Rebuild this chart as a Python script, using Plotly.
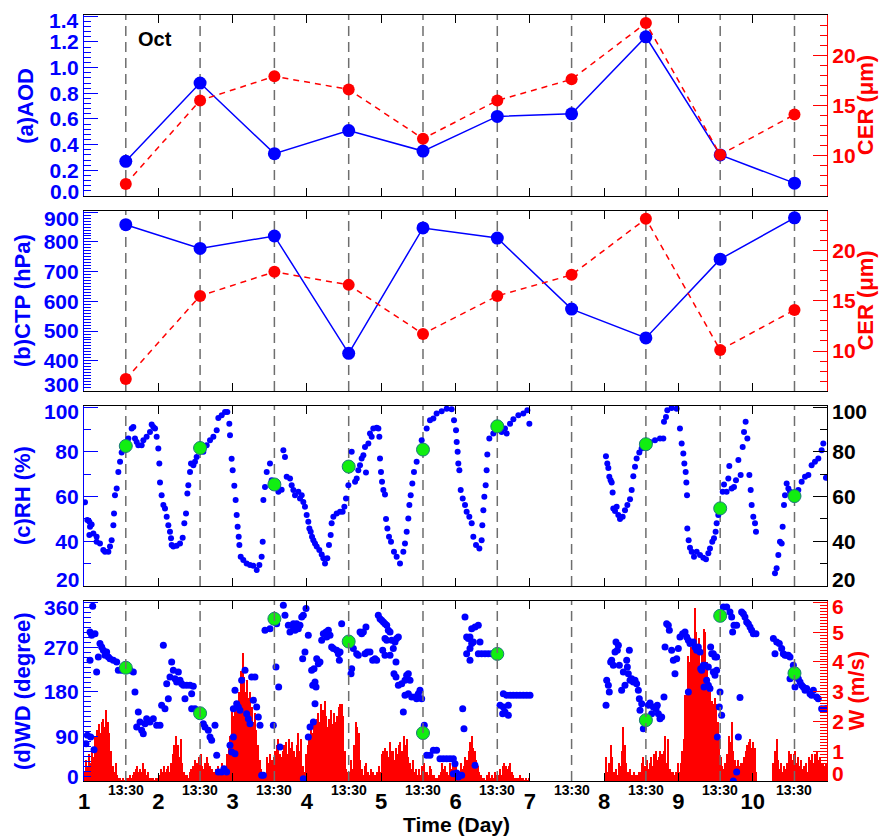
import plotly.graph_objects as go

# ---------------- data ----------------
T1330 = [1.5625, 2.5625, 3.5625, 4.5625, 5.5625, 6.5625, 7.5625, 8.5625, 9.5625, 10.5625]
AOD = [0.27, 0.88, 0.33, 0.51, 0.35, 0.62, 0.64, 1.24, 0.32, 0.10]
CER = [7.2, 15.5, 17.9, 16.6, 11.7, 15.5, 17.6, 23.2, 10.1, 14.1]
CTP = [858, 778, 820, 425, 847, 813, 574, 477, 742, 881]
RH_1330 = [82.6, 81.7, 65.4, 73.4, 81.0, 91.4, None, 83.4, 54.7, 60.2]
WD_1330 = [229, 137, 328, 282, 97, 257, None, 123, 334, 218]

DAY_TICKS = [1, 2, 3, 4, 5, 6, 7, 8, 9, 10]
DAY_LABELS = ["1", "2", "3", "4", "5", "6", "7", "8", "9", "10"]

AOD_TICKS = [0.0, 0.2, 0.4, 0.6, 0.8, 1.0, 1.2, 1.4]
CER_TICKS = [10, 15, 20]
CTP_TICKS = [300, 400, 500, 600, 700, 800, 900]
RH_TICKS = [20, 40, 60, 80, 100]
WD_TICKS = [0, 90, 180, 270, 360]
W_TICKS = [0, 1, 2, 3, 4, 5, 6]

RH_TIME = [
    1.013, 1.045, 1.072, 1.081, 1.103, 1.072, 1.126, 1.170, 1.170, 1.215, 1.260, 1.283, 1.328, 1.350, 1.372,
    1.395, 1.404, 1.417, 1.440, 1.462, 1.485, 1.507, 1.597, 1.642, 1.664, 1.686, 1.709, 1.731, 1.776, 1.799,
    1.843, 1.888, 1.911, 1.933, 1.956, 1.978, 2.000, 2.014, 2.023, 2.045, 2.068, 2.090, 2.113, 2.135, 2.157,
    2.171, 2.180, 2.202, 2.247, 2.292, 2.328, 2.350, 2.373, 2.391, 2.404, 2.427, 2.440, 2.472, 2.494, 2.516,
    2.606, 2.651, 2.696, 2.741, 2.786, 2.808, 2.853, 2.898, 2.929, 2.956, 2.965, 2.987, 3.001, 3.023, 3.041,
    3.055, 3.068, 3.082, 3.091, 3.109, 3.144, 3.189, 3.234, 3.279, 3.324, 3.360, 3.391, 3.405, 3.414, 3.436,
    3.459, 3.503, 3.526, 3.616, 3.660, 3.683, 3.705, 3.728, 3.773, 3.795, 3.818, 3.840, 3.885, 3.907, 3.930,
    3.952, 3.974, 3.997, 4.019, 4.033, 4.051, 4.069, 4.087, 4.109, 4.132, 4.167, 4.199, 4.221, 4.244, 4.275,
    4.297, 4.320, 4.333, 4.356, 4.401, 4.446, 4.481, 4.504, 4.526, 4.558, 4.603, 4.648, 4.670, 4.692, 4.715,
    4.737, 4.760, 4.795, 4.782, 4.827, 4.849, 4.872, 4.894, 4.939, 4.962, 4.975, 4.984, 4.997, 5.011, 5.029,
    5.051, 5.065, 5.083, 5.105, 5.132, 5.172, 5.208, 5.253, 5.298, 5.320, 5.343, 5.365, 5.379, 5.397, 5.419,
    5.441, 5.477, 5.522, 5.545, 5.612, 5.657, 5.702, 5.746, 5.814, 5.881, 5.948, 5.980, 6.007, 6.016, 6.029,
    6.038, 6.052, 6.070, 6.097, 6.128, 6.150, 6.186, 6.218, 6.240, 6.276, 6.321, 6.352, 6.361, 6.375, 6.388,
    6.406, 6.419, 6.428, 6.455, 6.509, 6.621, 6.666, 6.689, 6.734, 6.779, 6.846, 6.913, 6.967, 6.994,
    8.025, 8.043, 8.057, 8.070, 8.088, 8.102, 8.115, 8.124, 8.147, 8.169, 8.191, 8.214, 8.250, 8.281, 8.313,
    8.349, 8.371, 8.393, 8.416, 8.438, 8.474, 8.505, 8.618, 8.685, 8.752, 8.797, 8.806, 8.833, 8.851, 8.909,
    8.977, 9.021, 9.044, 9.066, 9.080, 9.098, 9.107, 9.116, 9.120, 9.138, 9.156, 9.179, 9.210, 9.246, 9.291,
    9.335, 9.371, 9.403, 9.425, 9.456, 9.479, 9.501, 9.515, 9.537, 9.596, 9.614, 9.649, 9.672, 9.685, 9.717,
    9.748, 9.775, 9.807, 9.838, 9.865, 9.883, 9.905, 9.928, 9.955, 9.973, 9.986, 10.008, 10.031, 10.044,
    10.300, 10.322, 10.345, 10.367, 10.390, 10.403, 10.421, 10.435, 10.457, 10.480, 10.502, 10.614, 10.659,
    10.704, 10.749, 10.793, 10.838, 10.883, 10.928, 10.950, 10.986,
]
RH_VAL = [
    57.4, 49.5, 48.7, 46.5, 47.5, 42.8, 43.5, 42.0, 39.8, 39.0, 36.1, 35.3, 35.3, 37.6, 40.5,
    47.2, 52.4, 60.6, 63.6, 71.0, 75.5, 79.7, 85.9, 90.4, 91.1, 85.9, 84.4, 82.9, 82.9, 85.2,
    86.7, 88.9, 92.2, 91.1, 90.4, 86.7, 81.5, 74.8, 66.3, 60.6, 56.2, 54.7, 51.0, 47.2, 44.3,
    41.3, 38.3, 37.6, 38.0, 39.0, 41.6, 48.0, 52.4, 61.4, 65.1, 71.0, 74.8, 74.0, 75.5, 77.7,
    80.0, 82.9, 85.2, 86.7, 89.6, 95.1, 96.3, 97.8, 97.8, 92.6, 87.4, 76.9, 71.8, 64.8, 58.4,
    51.7, 46.5, 42.0, 38.3, 33.1, 31.6, 30.1, 29.4, 29.1, 27.1, 29.4, 33.1, 39.8, 58.4, 64.3,
    71.0, 74.8, 67.3, 62.1, 63.0, 80.7, 77.7, 68.8, 68.1, 65.1, 62.9, 60.6, 62.1, 59.1, 60.6,
    57.6, 55.4, 51.7, 48.7, 45.7, 44.3, 42.0, 40.5, 39.0, 37.6, 36.1, 34.1, 32.4, 30.1, 32.4,
    38.3, 42.8, 48.0, 51.0, 52.4, 53.2, 53.2, 55.4, 59.1, 65.1, 80.0, 66.6, 68.1, 71.8, 74.0,
    77.0, 78.5, 70.7, 82.2, 83.7, 88.2, 86.7, 90.4, 90.8, 90.4, 86.7, 77.0, 71.0, 66.6, 62.9,
    60.9, 49.9, 45.7, 42.0, 39.8, 35.3, 33.1, 30.1, 35.3, 39.0, 44.3, 50.2, 56.2, 60.6, 65.8,
    71.0, 75.5, 80.7, 85.2, 90.4, 94.1, 94.9, 97.1, 98.1, 99.3, 99.0, 94.1, 89.6, 84.4, 80.0,
    74.8, 71.8, 62.9, 59.1, 56.2, 53.2, 51.0, 48.0, 42.0, 38.3, 36.8, 40.5, 47.2, 53.9, 59.9,
    65.1, 71.8, 78.8, 85.9, 88.2, 88.9, 90.4, 88.2, 92.6, 94.6, 96.3, 97.1, 98.6, 92.6,
    78.0, 74.8, 72.8, 68.8, 67.3, 66.3, 61.8, 54.7, 53.5, 55.4, 51.7, 49.9, 51.0, 53.9, 56.2,
    58.8, 62.9, 69.1, 73.3, 77.0, 79.7, 81.5, 84.4, 85.2, 85.9, 85.9, 93.4, 95.6, 98.6, 99.6,
    99.3, 90.4, 83.7, 79.2, 74.8, 71.0, 66.3, 60.6, 45.7, 40.5, 37.1, 35.3, 33.1, 35.3, 33.8,
    32.6, 31.9, 34.6, 36.8, 39.8, 41.3, 44.3, 48.0, 51.7, 62.1, 65.4, 62.1, 68.1, 73.7, 63.6,
    64.3, 67.3, 76.3, 69.6, 82.2, 88.9, 93.4, 85.9, 69.6, 62.9, 56.2, 51.0, 48.0, 44.3,
    25.7, 27.9, 33.8, 39.8, 39.0, 46.5, 56.2, 60.6, 65.8, 63.6, 62.1, 62.9, 66.6,
    68.8, 69.6, 74.0, 75.5, 77.0, 80.7, 83.7, 68.4,
]

WD_TIME = [
    1.027, 1.045, 1.090, 1.135, 1.117, 1.081, 1.103, 1.148, 1.081, 1.170, 1.193, 1.215, 1.238, 1.260, 1.283,
    1.305, 1.328, 1.350, 1.395, 1.440, 1.462, 1.507, 1.619, 1.664, 1.686, 1.731, 1.709, 1.754, 1.776, 1.798,
    1.821, 1.843, 1.888, 1.933, 1.978, 2.023, 2.068, 2.045, 2.090, 2.113, 2.135, 2.157, 2.180, 2.202, 2.225,
    2.247, 2.270, 2.292, 2.314, 2.337, 2.359, 2.382, 2.427, 2.449, 2.471, 2.449, 2.494, 2.606, 2.628, 2.673,
    2.696, 2.718, 2.763, 2.786, 2.808, 2.853, 2.884, 2.920, 2.965, 2.987, 3.010, 3.032, 3.010, 3.032, 3.055,
    3.077, 3.099, 3.122, 3.167, 3.189, 3.212, 3.234, 3.256, 3.279, 3.301, 3.324, 3.346, 3.369, 3.391, 3.414,
    3.436, 3.503, 3.548, 3.584, 3.620, 3.638, 3.593, 3.683, 3.705, 3.750, 3.772, 3.817, 3.862, 3.885,
    3.818, 3.840, 3.907, 3.930, 3.952, 3.988, 4.019, 3.974, 3.943, 4.064, 4.096, 4.132, 4.154, 4.176, 4.109,
    4.078, 4.123, 4.109, 4.087, 4.042, 4.019, 3.952, 4.199, 4.221, 4.257, 4.289, 4.311, 4.266, 4.333, 4.356,
    4.401, 4.423, 4.446, 4.437, 4.468, 4.625, 4.670, 4.692, 4.715, 4.737, 4.760, 4.795, 4.603, 4.594, 4.782,
    4.813, 4.849, 4.885, 4.917, 4.939, 4.961, 4.984, 5.006, 5.029, 5.051, 5.074, 5.096, 5.119, 5.051, 5.074,
    5.020, 5.051, 5.119, 5.163, 5.141, 5.186, 5.208, 5.231, 5.199, 5.172, 5.199, 5.231, 5.276, 5.320, 5.343,
    5.365, 5.388, 5.320, 5.365, 5.410, 5.455, 5.477, 5.500, 5.522, 5.298, 5.545, 5.580, 5.612, 5.657, 5.702,
    5.746, 5.791, 5.836, 5.881, 5.926, 5.971, 5.993, 5.971, 6.016, 6.038, 6.083, 6.097, 6.114, 6.128, 6.150,
    6.173, 6.195, 6.218, 6.263, 6.307, 6.218, 6.240, 6.330, 6.195, 6.150, 6.195, 6.263, 6.307, 6.352, 6.397,
    6.442, 6.487, 6.532, 6.644, 6.689, 6.734, 6.778, 6.823, 6.868, 6.913, 6.958, 7.003, 6.599, 6.644, 6.711,
    6.666, 6.711, 6.635,
    8.026, 8.035, 8.057, 8.070, 8.102, 8.088, 8.124, 8.147, 8.160, 8.178, 8.192, 8.205, 8.236, 8.259, 8.281,
    8.304, 8.313, 8.326, 8.340, 8.349, 8.371, 8.393, 8.416, 8.438, 8.461, 8.474, 8.483, 8.506, 8.528, 8.595,
    8.618, 8.640, 8.663, 8.699, 8.716, 8.730, 8.752, 8.775, 8.806, 8.820, 8.842, 8.864, 8.878, 8.909, 8.932,
    8.954, 8.977, 8.999, 9.021, 9.057, 9.089, 9.111, 9.134, 9.156, 9.201, 9.223, 9.246, 9.268, 9.291, 9.300,
    9.313, 9.336, 9.358, 9.380, 9.403, 9.434, 9.448, 9.470, 9.492, 9.515, 9.470, 9.492, 9.515, 9.345, 9.425,
    9.403, 9.134, 9.524, 9.551, 9.560, 9.582, 9.605, 9.650, 9.694, 9.717, 9.730, 9.748, 9.784, 9.829, 9.807,
    9.784, 9.739, 9.851, 9.874, 9.896, 9.919, 9.941, 9.964, 9.986, 10.009, 10.044, 10.278, 10.300, 10.323,
    10.358, 10.390, 10.412, 10.435, 10.457, 10.480, 10.502, 10.547, 10.502, 10.569, 10.614, 10.637, 10.659,
    10.681, 10.704, 10.726, 10.771, 10.793, 10.816, 10.861, 10.883, 10.928, 10.973, 10.995,
]
WD_VAL = [
    75.5, 92.4, 89.0, 63.4, 353.3, 301.4, 294.6, 298.0, 244.1, 220.5, 250.8, 277.8, 271.0, 264.3, 254.2,
    260.9, 250.8, 247.4, 244.1, 240.7, 223.8, 223.8, 223.8, 220.5, 180.0, 139.6, 109.2, 119.3, 102.5, 95.7,
    116.0, 126.1, 119.3, 126.1, 112.6, 112.6, 274.4, 153.0, 146.3, 196.9, 166.5, 210.4, 240.7, 223.8, 207.0,
    200.2, 220.5, 203.6, 196.9, 193.5, 166.5, 193.5, 193.5, 176.6, 191.5, 146.3, 146.3, 116.0, 109.2, 102.5,
    89.0, 82.3, 112.6, 51.9, 18.2, 18.2, 24.9, 18.2, 72.1, 58.7, 89.0, 55.3, 146.3, 183.4, 156.4,
    149.7, 142.9, 203.6, 223.8, 136.2, 126.1, 116.0, 210.4, 163.2, 210.4, 149.7, 129.4, 112.6, 11.5, 11.5,
    304.7, 308.1, 112.6, 230.6, 190.1, 68.8, 318.2, 355.3, 335.1, 314.9, 301.4, 311.5, 318.2, 308.1,
    318.2, 304.7, 314.9, 331.7, 335.1, 348.6, 294.6, 260.9, 247.4, 223.8, 227.2, 247.4, 237.3, 240.7, 200.2,
    193.5, 190.1, 156.4, 119.3, 109.2, 89.0, 4.7, 284.5, 298.0, 301.4, 304.7, 294.6, 291.3, 271.0, 267.7,
    264.3, 257.5, 260.9, 244.1, 318.2, 267.7, 257.5, 254.2, 301.4, 298.0, 301.4, 311.5, 227.2, 217.1, 257.5,
    260.9, 260.9, 244.1, 247.4, 244.1, 335.1, 328.3, 325.0, 321.6, 318.2, 314.9, 304.7, 301.4, 287.9, 284.5,
    264.3, 254.2, 254.2, 267.7, 284.5, 281.1, 287.9, 291.3, 240.7, 217.1, 210.4, 193.5, 196.9, 203.6, 213.7,
    217.1, 203.6, 173.3, 176.6, 169.9, 169.9, 166.5, 176.6, 183.4, 139.6, 166.5, 112.6, 51.9, 51.9, 62.0,
    62.0, 45.2, 45.2, 45.2, 45.2, 45.2, 35.1, 14.8, 16.2, 8.1, 11.5, 146.3, 105.9, 331.7, 291.3,
    287.9, 291.3, 308.1, 311.5, 314.9, 277.8, 281.1, 281.1, 267.7, 257.5, 244.1, 31.7, 257.5, 257.5, 257.5,
    257.5, 257.5, 257.5, 176.6, 173.3, 173.3, 173.3, 173.3, 173.3, 173.3, 173.3, 173.3, 153.0, 149.7, 153.0,
    139.6, 132.8, 136.2,
    153.0, 203.6, 193.5, 180.0, 244.1, 240.7, 233.9, 260.9, 281.1, 264.3, 274.4, 233.9, 183.4, 220.5, 193.5,
    244.1, 230.6, 217.1, 264.3, 203.6, 207.0, 200.2, 203.6, 196.9, 183.4, 166.5, 142.9, 156.4, 105.9, 153.0,
    157.8, 136.2, 149.7, 146.3, 153.0, 136.2, 126.1, 129.4, 169.9, 271.0, 318.2, 314.9, 304.7, 264.3, 244.1,
    217.1, 247.4, 267.7, 291.3, 298.0, 301.4, 291.3, 284.5, 277.8, 281.1, 271.0, 264.3, 271.0, 260.9, 227.2,
    223.8, 233.9, 233.9, 203.6, 193.5, 271.0, 257.5, 257.5, 250.8, 250.8, 220.5, 213.7, 223.8, 190.1, 186.8,
    230.6, 180.0, 89.0, 149.7, 180.0, 132.8, 351.9, 351.9, 341.8, 331.7, 301.4, 314.9, 314.9, 168.6, 89.0,
    18.2, 0.0, 341.8, 338.4, 331.7, 321.6, 318.2, 311.5, 304.7, 298.0, 298.0, 287.9, 257.5, 281.1,
    277.8, 267.7, 257.5, 254.2, 254.2, 254.2, 250.8, 233.9, 207.0, 190.1, 207.0, 200.2, 193.5,
    190.1, 183.4, 186.8, 176.6, 173.3, 183.4, 169.9, 166.5, 146.3, 146.3, 146.3,
]

# vertical velocity W (m/s), half-hourly bars, one list per day (48 values)
W_STEP = 1.0 / 48.0
W_D1 = [0.3, 0.7, 0.5, 0.9, 0.6, 1.0, 0.8, 1.5, 1.7, 1.9, 1.6, 2.0, 2.1, 1.8, 2.4, 2.0,
        1.6, 1.0, 0.5, 0.3, 0.6, 0.2, 0.1, 0.1, 0.05, 0.1, 0.05, 0.1, 0.1, 0.2, 0.1, 0.2,
        0.3, 0.4, 0.5, 0.3, 0.4, 0.3, 0.6, 0.4, 0.2, 0.3, 0.1, 0.1, 0.1, 0.05, 0.1, 0.1]
W_D2 = [0.2, 0.4, 0.3, 0.5, 0.3, 0.4, 0.5, 0.3, 0.6, 0.9, 1.2, 1.5, 1.2, 0.8, 1.4, 0.6,
        0.3, 0.2, 0.2, 0.1, 0.3, 0.4, 0.5, 0.7, 0.6, 0.6, 0.8, 0.9, 0.5, 0.4, 0.6, 0.8,
        0.6, 0.5, 0.4, 0.3, 0.3, 0.4, 0.5, 0.4, 0.3, 0.6, 0.2, 0.5, 0.9, 1.2, 1.5, 2.5]
W_D3 = [2.2, 2.7, 2.4, 2.5, 3.0, 3.7, 4.3, 3.5, 3.0, 3.4, 2.8, 3.0, 2.5, 2.0, 2.3, 1.7,
        1.2, 0.7, 0.4, 0.3, 0.3, 0.2, 0.8, 0.6, 0.9, 0.7, 0.8, 1.0, 1.2, 1.4, 0.9, 0.8,
        1.0, 1.2, 1.3, 0.9, 1.4, 1.1, 1.3, 1.0, 0.8, 1.2, 1.6, 1.0, 1.4, 0.5, 0.3, 0.9]
W_D4 = [1.2, 1.4, 1.8, 1.6, 1.9, 2.0, 2.1, 2.3, 2.0, 2.6, 2.4, 2.7, 2.2, 1.8, 2.1, 2.4,
        1.9, 2.3, 2.0, 2.2, 2.5, 2.6, 2.6, 2.2, 1.0, 0.4, 0.3, 0.3, 0.7, 0.4, 1.2, 2.0,
        1.8, 1.6, 0.7, 0.4, 0.2, 0.5, 0.6, 0.3, 0.2, 0.4, 0.3, 0.2, 0.2, 0.3, 0.5, 0.3]
W_D5 = [0.9, 1.0, 1.1, 1.0, 0.8, 1.3, 1.0, 1.0, 0.7, 1.1, 0.9, 1.2, 1.3, 1.0, 1.5, 1.2,
        1.4, 0.8, 0.6, 0.4, 0.7, 0.3, 0.4, 0.2, 0.4, 0.2, 0.5, 0.6, 0.3, 0.3, 0.2, 0.5,
        0.4, 0.2, 0.2, 0.1, 0.1, 0.2, 0.3, 0.6, 0.4, 0.5, 0.3, 0.2, 0.6, 0.4, 0.6, 0.8]
W_D6 = [0.5, 0.3, 0.2, 0.6, 0.4, 0.5, 0.8, 0.7, 1.0, 1.3, 1.5, 1.1, 1.0, 0.7, 0.5, 0.3,
        0.2, 0.1, 0.1, 0.05, 0.2, 0.3, 0.1, 0.2, 0.1, 0.3, 0.2, 0.2, 0.4, 0.2, 0.5, 0.6,
        0.5, 0.4, 0.5, 0.6, 0.3, 0.2, 0.1, 0.1, 0.1, 0.2, 0.1, 0.1, 0.05, 0.1, 0.05, 0.1]
W_D7 = [None] * 48
W_D8 = [None, 0.8, 0.3, 0.6, 1.2, 0.8, 0.3, 0.4, 0.2, 0.6, 0.5, 1.0, 1.8, 1.2, 0.6, 0.3,
        0.4, 0.2, 0.2, 0.3, 0.2, 0.2, 0.3, 0.3, 0.6, 0.8, 0.5, 0.7, 0.4, 0.6, 0.8, 0.5,
        0.9, 1.0, 0.7, 0.8, 1.0, 0.9, 1.0, 1.5, 0.6, 1.4, 0.4, 0.3, 0.3, 0.2, 0.3, 0.6]
W_D9 = [0.3, 0.6, 1.0, 1.4, 2.9, 3.0, 4.2, 4.0, 4.5, 4.7, 5.8, 5.0, 4.3, 4.8, 3.9, 4.4,
        5.1, 5.0, 4.0, 3.5, 3.0, 2.7, 2.6, 2.8, 2.6, 2.0, 1.5, 0.8, 0.5, 0.4, 0.6, 0.9,
        1.5, 1.3, 2.0, 1.0, 0.7, 0.5, 0.7, 0.5, 0.6, 0.6, 0.8, 1.0, 1.2, 1.3, 1.4, 1.1]
W_D10 = [1.3, 1.1, 0.3, None, None, None, None, None, None, None, None, None, None, 0.6, 1.0, 1.4,
         0.7, 0.4, 0.6, 0.3, 0.5, 0.4, 0.6, 1.0, 0.9, 0.7, 0.9, 1.0, 0.6, 0.8, 0.5, 0.7,
         0.4, 0.5, 0.6, 0.3, 0.8, 0.7, 0.9, 0.6, 0.9, 1.0, 0.7, 0.8, 0.6, 0.6, 0.5, 0.6]

# ---------------- styling ----------------
BLUE = "#0000ff"
RED = "#ff0000"
GREEN = "#11ee11"
BLACK = "#000000"
GRAY = "#6e6e6e"
FONT = "Liberation Sans, Arial, sans-serif"
TICK_SIZE = 21

W_ALL = W_D1 + W_D2 + W_D3 + W_D4 + W_D5 + W_D6 + W_D7 + W_D8 + W_D9 + W_D10
W_TIME = [1.0 + (i + 0.5) * W_STEP for i in range(len(W_ALL))]

fig = go.Figure()

# panel (a)
fig.add_trace(go.Scatter(x=T1330, y=AOD, mode="lines+markers", xaxis="x", yaxis="y",
                         line=dict(color=BLUE, width=1.5), marker=dict(color=BLUE, size=13)))
fig.add_trace(go.Scatter(x=T1330, y=CER, mode="lines+markers", xaxis="x", yaxis="y2",
                         line=dict(color=RED, width=1.5, dash="6px,5px"), marker=dict(color=RED, size=12)))
# panel (b)
fig.add_trace(go.Scatter(x=T1330, y=CTP, mode="lines+markers", xaxis="x2", yaxis="y3",
                         line=dict(color=BLUE, width=1.5), marker=dict(color=BLUE, size=13)))
fig.add_trace(go.Scatter(x=T1330, y=CER, mode="lines+markers", xaxis="x2", yaxis="y4",
                         line=dict(color=RED, width=1.5, dash="6px,5px"), marker=dict(color=RED, size=12)))
# panel (c)
fig.add_trace(go.Scatter(x=RH_TIME, y=RH_VAL, mode="markers", xaxis="x3", yaxis="y5",
                         marker=dict(color=BLUE, size=6)))
fig.add_trace(go.Scatter(x=T1330, y=RH_1330, mode="markers", xaxis="x3", yaxis="y5",
                         marker=dict(color=GREEN, size=13, line=dict(color="#1a7a7a", width=1))))
fig.add_trace(go.Scatter(x=[1], y=[None], mode="markers", xaxis="x3", yaxis="y6",
                         marker=dict(size=1, opacity=0), hoverinfo="skip"))
# panel (d)
fig.add_trace(go.Bar(x=W_TIME, y=W_ALL, xaxis="x4", yaxis="y7", width=W_STEP * 0.8,
                     marker=dict(color=RED, line=dict(width=0))))
fig.add_trace(go.Scatter(x=WD_TIME, y=WD_VAL, mode="markers", xaxis="x4", yaxis="y8",
                         marker=dict(color=BLUE, size=7)))
fig.add_trace(go.Scatter(x=T1330, y=WD_1330, mode="markers", xaxis="x4", yaxis="y8",
                         marker=dict(color=GREEN, size=13, line=dict(color="#1a7a7a", width=1))))

DOM = {"a": [0.7637, 1.0], "b": [0.509, 0.7445], "c": [0.2546, 0.4896], "d": [0.0, 0.235]}
XR = [1.0, 11.0]


def xax(anchor, labels):
    d = dict(domain=[0, 1], range=XR, showline=True, linecolor=BLACK, linewidth=1.2, mirror="ticks",
             ticks="inside", ticklen=8, tickcolor=BLACK, tickwidth=1.2, tickvals=DAY_TICKS,
             showgrid=False, zeroline=False, anchor=anchor)
    if labels:
        d.update(ticktext=DAY_LABELS, showticklabels=True, ticklabelstandoff=0,
                 tickfont=dict(family=FONT, size=22, color=BLACK, weight="bold"))
    else:
        d.update(showticklabels=False)
    return d


ann = []


def edge(text, value, yref, side, color, shift):
    ann.append(dict(text=text, x=0 if side == "left" else 1, xref="paper", y=value, yref=yref,
                    xanchor="right" if side == "left" else "left", yanchor="middle",
                    xshift=-3 if side == "left" else 3, yshift=shift, showarrow=False,
                    font=dict(family=FONT, size=TICK_SIZE, color=color, weight="bold")))


def yax(color, rng, ticks, fmt, minor, side="left", labelcolor=None, domain=None,
        overlaying=None, anchor="x", yref="y", top_shift=0, bot_shift=0):
    lc = labelcolor or color
    texts = []
    for v in ticks:
        t = fmt.format(v)
        # labels at the very ends of an axis are drawn nudged inward, as in the original
        if v == ticks[0] and bot_shift:
            texts.append("")
            edge(t, v, yref, side, lc, bot_shift)
        elif v == ticks[-1] and top_shift:
            texts.append("")
            edge(t, v, yref, side, lc, top_shift)
        else:
            texts.append(t)
    d = dict(range=rng, tickmode="array", tickvals=ticks, ticktext=texts, side=side,
             showline=True, linecolor=color, linewidth=1.2,
             ticks="inside", ticklen=14, tickwidth=1.2, tickcolor=color,
             minor=dict(tickmode="linear", tick0=0, dtick=minor, ticks="inside", ticklen=7,
                        tickcolor=color, tickwidth=1),
             showgrid=False, zeroline=False, anchor=anchor,
             tickfont=dict(family=FONT, size=TICK_SIZE, color=lc, weight="bold"))
    if domain is not None:
        d["domain"] = domain
    if overlaying:
        d["overlaying"] = overlaying
    return d


layout = dict(
    width=882, height=836, margin=dict(l=84, r=55, t=15, b=55),
    plot_bgcolor="white", paper_bgcolor="white", showlegend=False, bargap=0,
    font=dict(family=FONT, weight="bold"),
)
layout["xaxis"] = xax("y", False)
layout["xaxis2"] = xax("y3", False)
layout["xaxis3"] = xax("y5", False)
layout["xaxis4"] = xax("y7", True)

layout["yaxis"] = yax(BLUE, [0, 1.41], AOD_TICKS, "{:.1f}", 0.04, domain=DOM["a"], anchor="x", yref="y",
                      top_shift=-4, bot_shift=5)
layout["yaxis2"] = yax(RED, [6, 24], CER_TICKS, "{:d}", 1, side="right", overlaying="y", anchor="x", yref="y2")
layout["yaxis3"] = yax(BLUE, [298, 905], CTP_TICKS, "{:d}", 10, domain=DOM["b"], anchor="x2", yref="y3",
                       top_shift=-6, bot_shift=6)
layout["yaxis4"] = yax(RED, [6, 24], CER_TICKS, "{:d}", 1, side="right", overlaying="y3", anchor="x2", yref="y4")
layout["yaxis5"] = yax(BLUE, [20, 100.5], RH_TICKS, "{:d}", 10, domain=DOM["c"], anchor="x3", yref="y5",
                       top_shift=-4, bot_shift=6)
layout["yaxis6"] = yax(BLACK, [20, 100.5], RH_TICKS, "{:d}", 10, side="right", overlaying="y5", anchor="x3",
                       yref="y6", top_shift=-4, bot_shift=6)
layout["yaxis7"] = yax(RED, [0, 6.05], W_TICKS, "{:d}", 0.1, side="right", domain=DOM["d"], anchor="x4",
                       yref="y7", top_shift=-4, bot_shift=8)
layout["yaxis8"] = yax(BLUE, [0, 364], WD_TICKS, "{:d}", 10, side="left", overlaying="y7", anchor="x4",
                       yref="y8", top_shift=-5, bot_shift=5)

# dashed 13:30 lines
shapes = []
for xr, yr in [("x", "y"), ("x2", "y3"), ("x3", "y5"), ("x4", "y7")]:
    for t in T1330:
        shapes.append(dict(type="line", xref=xr, yref=yr + " domain", x0=t, x1=t, y0=0, y1=1,
                           line=dict(color=GRAY, width=1.5, dash="10px,6px"),
                           layer="above" if xr == "x4" else "below"))
layout["shapes"] = shapes


def title(text, x, y, color, size=22):
    ann.append(dict(text=text, x=x, y=y, xref="paper", yref="paper", showarrow=False, textangle=-90,
                    font=dict(family=FONT, size=size, color=color, weight="bold"),
                    xanchor="center", yanchor="middle"))


def mid(k):
    return (DOM[k][0] + DOM[k][1]) / 2


title("(a)AOD", -0.079, mid("a"), BLUE)
title("(b)CTP (hPa)", -0.082, mid("b"), BLUE)
title("(c)RH (%)", -0.082, mid("c"), BLUE)
title("(d)WD (degree)", -0.082, mid("d"), BLUE)
title("CER (\u03bcm)", 1.052, mid("a"), RED)
title("CER (\u03bcm)", 1.052, mid("b"), RED)
title("W (m/s)", 1.041, mid("d"), RED)

for t in T1330:
    ann.append(dict(text="13:30", x=t, xref="x4", y=0, yref="paper", yshift=-9, showarrow=False,
                    font=dict(family=FONT, size=14, color=BLACK, weight="bold"),
                    xanchor="center", yanchor="middle"))
ann.append(dict(text="Time (Day)", x=0.501, xref="paper", y=0, yref="paper", yshift=-43, showarrow=False,
                font=dict(family=FONT, size=21, color=BLACK, weight="bold"), xanchor="center", yanchor="middle"))
ann.append(dict(text="Oct", x=1.96, xref="x", y=1.22, yref="y", showarrow=False,
                font=dict(family=FONT, size=20, color=BLACK, weight="bold"), xanchor="center", yanchor="middle"))
layout["annotations"] = ann

fig.update_layout(**layout)
fig.write_html("out.html", config={"displayModeBar": False},
               post_script="document.body.style.margin='0';document.body.style.padding='0';")
